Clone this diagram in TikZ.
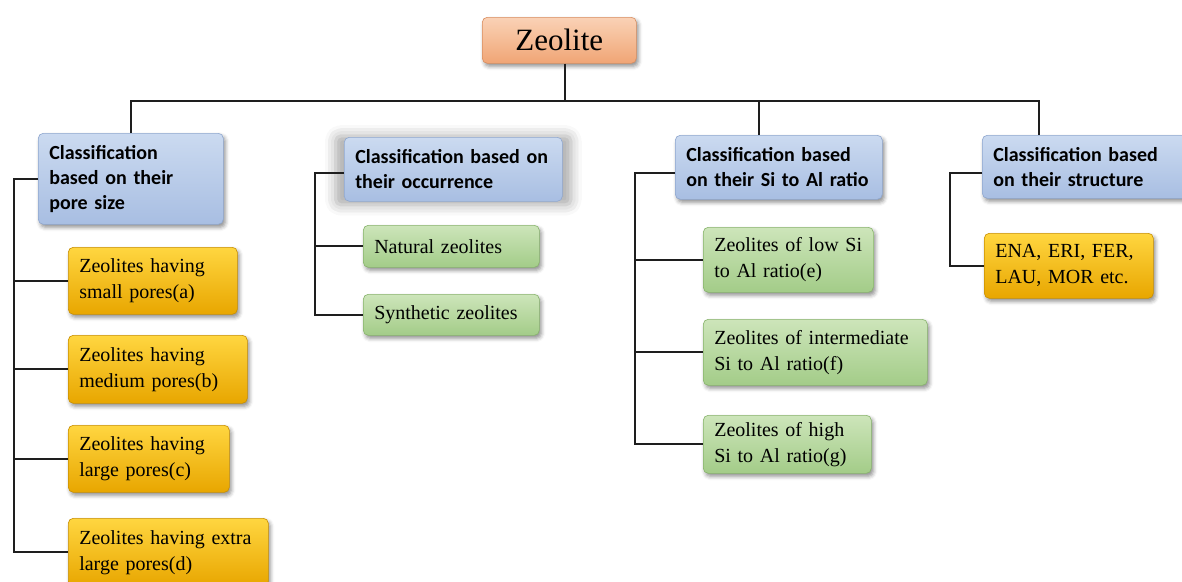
\documentclass[tikz,border=0pt]{standalone}
\usepackage{fontspec}
\setmainfont{Liberation Serif}
\newfontfamily\calfont{Carlito}
\usetikzlibrary{shadows,shadows.blur}

\definecolor{salmonT}{HTML}{FAD2B6}
\definecolor{salmonB}{HTML}{F0A575}
\definecolor{salmonD}{HTML}{D98E60}
\definecolor{blueT}{HTML}{CBDAF0}
\definecolor{blueB}{HTML}{A8BEE2}
\definecolor{blueD}{HTML}{8FA7CF}
\definecolor{goldT}{HTML}{FFD640}
\definecolor{goldB}{HTML}{E8A600}
\definecolor{goldD}{HTML}{C98F00}
\definecolor{greenT}{HTML}{CDE5BA}
\definecolor{greenB}{HTML}{A3CC88}
\definecolor{greenD}{HTML}{88B46C}
\definecolor{wire}{HTML}{1E1E1E}

\tikzset{
  box/.style={anchor=north west, rounded corners=5pt, inner xsep=11pt, inner ysep=2pt,
    align=left, line width=0.6pt,
    blur shadow={shadow xshift=2pt, shadow yshift=-3pt, shadow blur radius=4pt, shadow opacity=45}},
  headbox/.style={box, top color=blueT, bottom color=blueB, draw=blueD,
    font=\calfont\bfseries\fontsize{20}{25}\selectfont},
  goldbox/.style={box, top color=goldT, bottom color=goldB, draw=goldD,
    font=\fontsize{20}{26}\selectfont},
  greenbox/.style={box, top color=greenT, bottom color=greenB, draw=greenD,
    font=\fontsize{20}{26}\selectfont},
  rootbox/.style={box, align=center, top color=salmonT, bottom color=salmonB, draw=salmonD,
    font=\fontsize{31}{36}\selectfont},
  halo/.style={blur shadow={shadow xshift=0pt, shadow yshift=-1pt, shadow scale=1.08,
    shadow blur radius=10pt, shadow opacity=18}},
  link/.style={draw=wire, line width=1.7pt}
}

\begin{document}
\begin{tikzpicture}[x=1pt, y=-1pt]
\useasboundingbox (0,0) rectangle (1182,581);

% root
\node[rootbox, minimum width=154pt, minimum height=46pt] (zeo) at (482,17) {Zeolite};

% classification headers
\node[headbox, minimum width=185pt, minimum height=91pt, text width=163pt] (c1) at (38,133)
  {Classification\\based on their\\pore size};
\node[headbox, halo, minimum width=218pt, minimum height=64pt, text width=196pt] (c2) at (344,137)
  {Classification based on\\their occurrence};
\node[headbox, minimum width=207pt, minimum height=64pt, text width=185pt] (c3) at (675,135)
  {Classification based\\on their Si to Al ratio};
\node[headbox, minimum width=205pt, minimum height=63pt, text width=183pt] (c4) at (982,135)
  {Classification based\\on their structure};

% pore size
\node[goldbox, minimum width=169pt, minimum height=67pt, text width=147pt] (p1) at (68,247)
  {Zeolites having\\small pores(a)};
\node[goldbox, minimum width=179pt, minimum height=68pt, text width=157pt] (p2) at (68,335)
  {Zeolites having\\medium pores(b)};
\node[goldbox, minimum width=161pt, minimum height=67pt, text width=139pt] (p3) at (68,425)
  {Zeolites having\\large pores(c)};
\node[goldbox, minimum width=200pt, minimum height=68pt, text width=178pt] (p4) at (68,518)
  {Zeolites having extra\\large pores(d)};

% occurrence
\node[greenbox, minimum width=176pt, minimum height=42pt, text width=154pt] (o1) at (363,225)
  {Natural zeolites};
\node[greenbox, minimum width=176pt, minimum height=41pt, text width=154pt] (o2) at (363,294)
  {Synthetic zeolites};

% Si to Al ratio
\node[greenbox, minimum width=170pt, minimum height=65pt, text width=148pt] (r1) at (703,227)
  {Zeolites of low Si\\to Al ratio(e)};
\node[greenbox, minimum width=224pt, minimum height=66pt, text width=202pt] (r2) at (703,319)
  {Zeolites of intermediate\\Si to Al ratio(f)};
\node[greenbox, minimum width=168pt, minimum height=58pt, text width=146pt] (r3) at (703,415)
  {Zeolites of high\\Si to Al ratio(g)};

% structure
\node[goldbox, minimum width=169pt, minimum height=65pt, text width=147pt] (s1) at (984,233)
  {ENA, ERI, FER,\\LAU, MOR etc.};

% bus line and its drops
\coordinate (bus) at (565,101);
\coordinate (d3) at (759,101);
\coordinate (d4) at (1039,101);
\draw[link] (bus |- zeo.south) -- (bus);
\draw[link] (c1.north) |- (d4) -- (d4 |- c4.north);
\draw[link] (d3) -- (d3 |- c3.north);

% spines of the four groups
\coordinate (k1) at (14,0);
\coordinate (k2) at (315,0);
\coordinate (k3) at (635,0);
\coordinate (k4) at (950,0);

\draw[link] (c1.west) -- (c1.west -| k1) |- (p4.west);
\foreach \n in {p1,p2,p3} \draw[link] (\n.west -| k1) -- (\n.west);

\draw[link] ([yshift=-4pt]c2.west) -- ([yshift=-4pt]c2.west -| k2) |- (o2.west);
\draw[link] (o1.west -| k2) -- (o1.west);

\draw[link] ([yshift=-6pt]c3.west) -- ([yshift=-6pt]c3.west -| k3) |- (r3.west);
\foreach \n in {r1,r2} \draw[link] (\n.west -| k3) -- (\n.west);

\draw[link] ([yshift=-6pt]c4.west) -- ([yshift=-6pt]c4.west -| k4) |- (s1.west);
\end{tikzpicture}
\end{document}
